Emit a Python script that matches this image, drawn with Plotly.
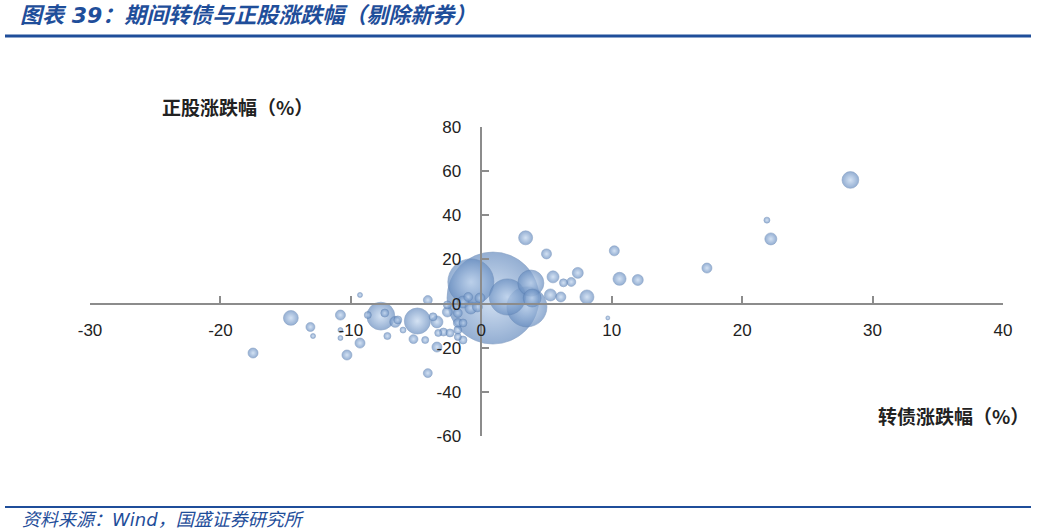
import plotly.graph_objects as go

# 转债涨跌幅 (%)
cb_chg = [0.9, -0.8, 2.0, 3.8, 3.5, 3.9, -4.9, -7.7, -14.6, 28.3, 22.2, 21.9, 17.3, 12.0, 10.6, 10.2, 9.7,
          8.1, 5.5, 6.3, 6.9, 7.4, 6.1, 5.3, 5.0, 3.4,
          -0.1, -1.0, -1.4, -2.6, -0.3, -4.1, -0.8, -1.8, -2.6, -1.8, -1.4, -3.4, -2.9, -2.4, -1.8,
          -1.4, -1.8, -3.4, -4.3, -5.2, -4.1, -6.6, -8.7, -7.2, -6.0, -9.3, -9.3, -10.3, -10.8,
          -10.8, -10.8, -13.1, -12.9, -17.5, -3.7, -6.4, -7.4, -3.3]
# 正股涨跌幅 (%)
stock_chg = [2.5, 9.8, 3.0, 9.3, -1.5, 2.5, -7.9, -5.7, -6.5, 56.0, 29.3, 37.8, 16.1, 10.7, 11.2, 23.9, -6.5,
             3.0, 12.1, 9.4, 9.8, 13.9, 3.0, 3.9, 22.5, 29.8,
             2.5, 3.0, 0.7, -0.6, -1.5, 1.6, -2.0, -4.3, -3.8, -8.8, -8.8, -8.3, -12.9, -13.3, -12.0,
             -16.5, -15.1, -19.7, -16.5, -16.1, -31.5, -8.3, -5.2, -14.7, -12.0, 3.9, -17.9, -23.3, -5.2,
             -12.0, -15.6, -10.6, -14.7, -22.4, -6.0, -7.4, -4.3, -13.3]
# 转债余额 (亿元)
balance = [423, 106, 65, 34, 80, 16, 34, 39, 11, 14, 7.2, 1.8, 5, 6, 8.5, 5, 0.8,
           9.8, 7.2, 3.2, 4, 6, 5, 7.2, 5, 9.8,
           5, 4, 7.2, 3.2, 5, 4, 7.2, 4, 5, 4, 3.2, 7.2, 3.2, 3.2, 3.2,
           3.2, 2.5, 5, 2.5, 4, 4, 6, 2.5, 2.5, 1.8, 1.25, 5, 5, 5,
           1.25, 1.25, 4, 1.25, 5, 3.2, 3.2, 3.2, 2.5]

x_ticks = [-30, -20, -10, 0, 10, 20, 30, 40]
x_tick_labels = ["-30", "-20", "-10", "0", "10", "20", "30", "40"]
y_ticks = [-60, -40, -20, 0, 20, 40, 60, 80]
y_tick_labels = ["-60", "-40", "-20", "0", "20", "40", "60", "80"]

title_text = "图表 39：期间转债与正股涨跌幅（剔除新券）"
source_text = "资料来源：Wind，国盛证券研究所"
x_title = "转债涨跌幅（%）"
y_title = "正股涨跌幅（%）"

BLUE = "#1f4e9a"
AXIS = "#8c8c8c"
TICKFONT = dict(family="Liberation Sans, Arial, sans-serif", size=17, color="#222222")

# draw larger bubbles first so smaller ones stay visible on top
order = sorted(range(len(balance)), key=lambda i: -balance[i])
xs = [cb_chg[i] for i in order]
ys = [stock_chg[i] for i in order]
ss = [balance[i] for i in order]

fig = go.Figure()
fig.add_trace(go.Scatter(
    x=xs, y=ys, mode="markers",
    marker=dict(size=ss, sizemode="area", sizeref=0.1,
                color="#678dc0",
                gradient=dict(type="radial", color="#c2d6ef"),
                line=dict(color="#5a7eae", width=0.6)),
    hoverinfo="skip", showlegend=False, cliponaxis=False,
))

xpos = (0 - y_ticks[0]) / (y_ticks[-1] - y_ticks[0])
ypos = (0 - x_ticks[0]) / (x_ticks[-1] - x_ticks[0])

fig.update_layout(
    width=1038, height=532,
    margin=dict(l=90, r=35, t=127, b=96),
    paper_bgcolor="white", plot_bgcolor="white",
    xaxis=dict(range=[x_ticks[0], x_ticks[-1]], tickvals=x_ticks, ticktext=x_tick_labels,
               showgrid=False, zeroline=False,
               showline=True, linecolor=AXIS, linewidth=1.5, ticks="inside", ticklen=7,
               tickcolor=AXIS, tickwidth=1.5, anchor="free", position=xpos,
               tickfont=TICKFONT, ticklabelstandoff=11),
    yaxis=dict(range=[y_ticks[0], y_ticks[-1]], tickvals=y_ticks, ticktext=y_tick_labels,
               showgrid=False, zeroline=False,
               showline=True, linecolor=AXIS, linewidth=1.5, ticks="inside", ticklen=7,
               tickcolor=AXIS, tickwidth=1.5, anchor="free", position=ypos,
               tickfont=TICKFONT, ticklabelstandoff=16),
)

W, H = 913, 309
def px(xp):
    return (xp - 90) / W
def py(yp):
    return (436 - yp) / H

fig.add_annotation(text=title_text, xref="paper", yref="paper", x=px(18), y=py(16),
                   xanchor="left", yanchor="middle", showarrow=False,
                   font=dict(family="DejaVu Sans, Noto Sans CJK SC", size=22, color=BLUE,
                             weight="bold", style="italic"))
fig.add_annotation(text=source_text, xref="paper", yref="paper", x=px(20), y=py(519),
                   xanchor="left", yanchor="middle", showarrow=False,
                   font=dict(family="DejaVu Sans, Noto Sans CJK SC", size=18, color=BLUE,
                             style="italic"))
fig.add_annotation(text=y_title, xref="paper", yref="paper", x=px(160), y=py(106),
                   xanchor="left", yanchor="middle", showarrow=False,
                   font=dict(family="Noto Sans CJK SC", size=19, color="#222222", weight="bold"))
fig.add_annotation(text=x_title, xref="paper", yref="paper", x=px(876), y=py(415),
                   xanchor="left", yanchor="middle", showarrow=False,
                   font=dict(family="Noto Sans CJK SC", size=19, color="#222222", weight="bold"))

fig.add_shape(type="line", xref="paper", yref="paper", x0=px(5), x1=px(1031), y0=py(36), y1=py(36),
              line=dict(color=BLUE, width=3))
fig.add_shape(type="line", xref="paper", yref="paper", x0=px(5), x1=px(1031), y0=py(507), y1=py(507),
              line=dict(color=BLUE, width=2))

fig.write_html("out.html", config={"displayModeBar": False},
               post_script="document.body.style.margin='0';")
